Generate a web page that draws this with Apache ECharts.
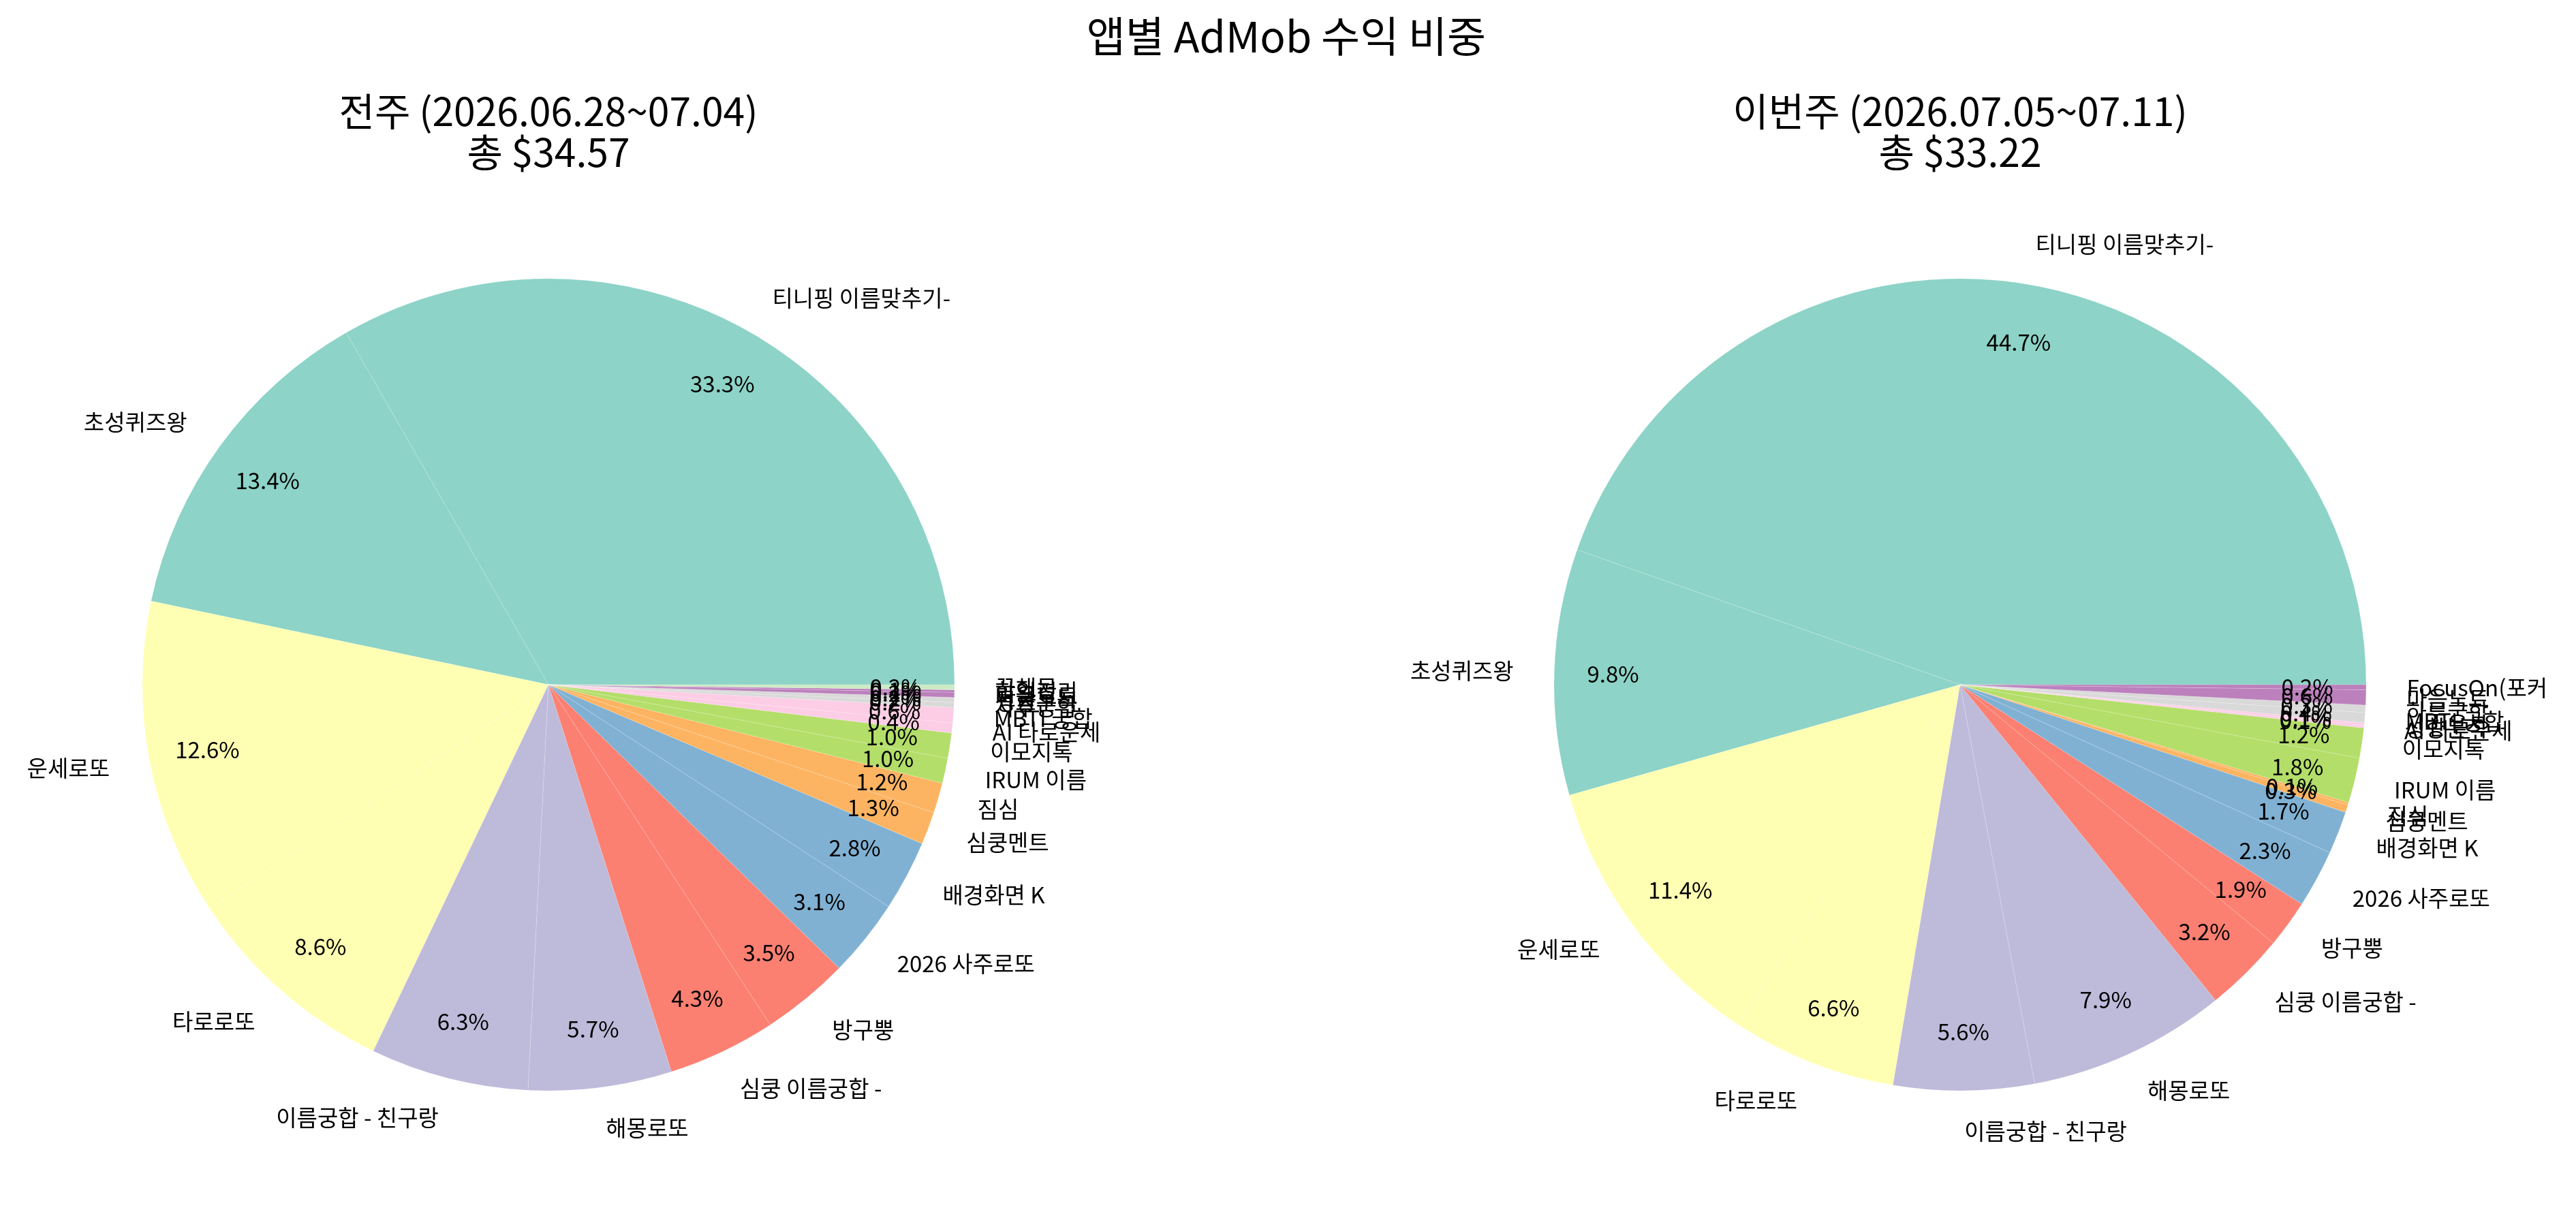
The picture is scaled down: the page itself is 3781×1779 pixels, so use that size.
<!DOCTYPE html>
<html>
<head>
<meta charset="utf-8">
<script src="https://cdn.jsdelivr.net/npm/echarts@6/dist/echarts.min.js"></script>
<style>
  html, body { margin: 0; background: #fff; }
  #chart { width: 3781px; height: 1779px; }
</style>
</head>
<body>
<div id="chart"></div>
<script>
// 전주 / 이번주 앱별 비중 (%)
const prevApps = [
  "티니핑 이름맞추기-", "초성퀴즈왕", "운세로또", "타로로또", "이름궁합 - 친구랑",
  "해몽로또", "심쿵 이름궁합 -", "방구뿡", "2026 사주로또", "배경화면 K",
  "심쿵멘트", "짐심", "IRUM 이름", "이모지톡", "AI 타로운세",
  "MBTI 궁합", "사주궁합", "성향분석", "마음노트", "할일정리", "꿈해몽"
]
const prevShare = [
  33.3, 13.4, 12.6, 8.6, 6.3,
  5.7, 4.3, 3.5, 3.1, 2.8,
  1.3, 1.2, 1.0, 1.0, 0.4,
  0.6, 0.2, 0.2, 0.2, 0.1, 0.2
]
const currApps = [
  "티니핑 이름맞추기-", "초성퀴즈왕", "운세로또", "타로로또", "이름궁합 - 친구랑",
  "해몽로또", "심쿵 이름궁합 -", "방구뿡", "2026 사주로또", "배경화면 K",
  "심쿵멘트", "짐심", "IRUM 이름", "이모지톡", "AI 타로운세",
  "성향분석", "MBTI 궁합", "하루궁합", "마음노트", "FocusOn(포커"
]
const currShare = [
  44.7, 9.8, 11.4, 6.6, 5.6,
  7.9, 3.2, 1.9, 2.3, 1.7,
  0.3, 0.1, 1.8, 1.2, 0.1,
  0.1, 0.4, 0.3, 0.6, 0.2
]
const suptitle = "앱별 AdMob 수익 비중"
const prevTitle = "전주 (2026.06.28~07.04)\n총 $34.57"
const currTitle = "이번주 (2026.07.05~07.11)\n총 $33.22"

const set3 = [ "#8dd3c7", "#ffffb3", "#bebada", "#fb8072", "#80b1d3", "#fdb462",
  "#b3de69", "#fccde5", "#d9d9d9", "#bc80bd", "#ccebc5", "#ffed6f" ]
const FONT = "\"Noto Sans CJK KR\", \"Noto Sans\", sans-serif"
const R = 596
const CY = 1005

const chart = echarts.init(document.getElementById("chart"), null, { renderer: "canvas" })

const makePie = (apps, share, cx) => {
  const slices = apps.map((name, i) => ({
    name,
    value: share[i],
    itemStyle: { color: set3[Math.min(Math.floor(i / 2), 11)] }
  }))
  return [
    {
      type: "pie",
      center: [ cx, CY ],
      radius: R,
      startAngle: 0,
      clockwise: false,
      avoidLabelOverlap: false,
      silent: true,
      animation: false,
      itemStyle: { borderColor: "rgba(255,255,255,0.35)", borderWidth: 0.5 },
      label: {
        show: true,
        position: "outside",
        formatter: "{b}",
        color: "#000",
        fontSize: 33,
        fontFamily: FONT,
        overflow: "none",
        alignTo: "none",
        distanceToLabelLine: 0,
        bleedMargin: 0
      },
      labelLine: { show: false, length: R * 0.1, length2: 0 },
      labelLayout: { hideOverlap: false, moveOverlap: null },
      emphasis: { disabled: true },
      data: slices
    },
    {
      // 퍼센트 라벨 (0.85R)
      type: "pie",
      center: [ cx, CY ],
      radius: [ R * 0.7, R ],
      startAngle: 0,
      clockwise: false,
      avoidLabelOverlap: false,
      silent: true,
      animation: false,
      z: 5,
      itemStyle: { color: "rgba(0,0,0,0)" },
      label: {
        show: true,
        position: "inside",
        formatter: p => p.value.toFixed(1) + "%",
        color: "#000",
        fontSize: 33,
        fontFamily: FONT
      },
      labelLine: { show: false },
      labelLayout: { hideOverlap: false, moveOverlap: null },
      emphasis: { disabled: true },
      data: slices.map(s => ({ name: s.name, value: s.value }))
    }
  ]
}

const titleText = (text, x, y, size) => ({
  type: "text",
  x,
  y,
  silent: true,
  style: {
    text,
    font: size + "px " + FONT,
    fill: "#000",
    align: "center",
    verticalAlign: "middle",
    textAlign: "center",
    textVerticalAlign: "middle",
    lineHeight: Math.round(size * 1.05)
  }
})

let option = {
  animation: false,
  backgroundColor: "#fff",
  graphic: [
    titleText(suptitle, 1888, 53, 62),
    titleText(prevTitle, 805, 193, 57),
    titleText(currTitle, 2877, 193, 57)
  ],
  series: [
    ...makePie(prevApps, prevShare, 805),
    ...makePie(currApps, currShare, 2877)
  ]
}
chart.setOption(option)
</script>
</body>
</html>
